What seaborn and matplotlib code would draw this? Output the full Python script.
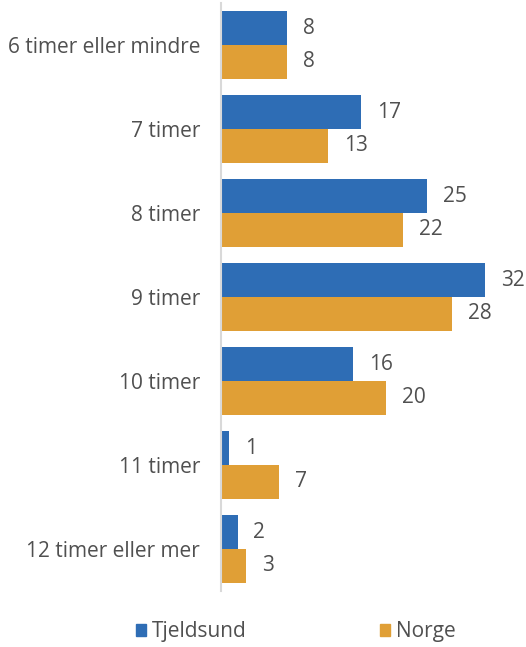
import matplotlib
matplotlib.use("Agg")
import matplotlib.pyplot as plt
import seaborn as sns
import pandas as pd
from matplotlib.patches import Patch

categories = ["6 timer eller mindre", "7 timer", "8 timer", "9 timer", "10 timer", "11 timer", "12 timer eller mer"]
tjeldsund = [8, 17, 25, 32, 16, 1, 2]
norge = [8, 13, 22, 28, 20, 7, 3]
series = ["Tjeldsund", "Norge"]
colors = ["#2E6DB5", "#E09F36"]

df = pd.DataFrame({
    "kategori": categories * 2,
    "verdi": tjeldsund + norge,
    "serie": [series[0]] * len(categories) + [series[1]] * len(categories),
})

sns.set_theme(style="white")
plt.rcParams["font.family"] = ["Open Sans", "DejaVu Sans"]
text_color = "#505050"
fs = 15

fig = plt.figure(figsize=(5.26, 6.47), dpi=100)
ax = fig.add_axes([221 / 526, 1 - 591 / 647, (510 - 221) / 526, 588 / 647])

sns.barplot(data=df, y="kategori", x="verdi", hue="serie", order=categories,
            hue_order=series, palette=colors, orient="h", width=0.8,
            ax=ax, legend=False, saturation=1, linewidth=0)

for cont in ax.containers:
    ax.bar_label(cont, labels=[f"{int(v.get_width())}" for v in cont],
                 padding=11.5, fontsize=fs, color=text_color)

ax.set_xlim(0, 35)
ax.set_ylim(len(categories) - 0.5, -0.5)
ax.set_xlabel("")
ax.set_ylabel("")
ax.set_xticks([])
ax.tick_params(axis="y", length=0, pad=15, labelsize=fs, labelcolor=text_color)
for s in ["top", "right", "bottom"]:
    ax.spines[s].set_visible(False)
ax.spines["left"].set_color("#d9d9d9")
ax.spines["left"].set_linewidth(1.5)

handles = [Patch(facecolor=c, edgecolor=c, label=s) for c, s in zip(colors, series)]
fig.legend(handles=handles, loc="center", bbox_to_anchor=(296 / 526, 1 - 632 / 647),
           ncol=2, frameon=False, fontsize=fs, handlelength=0.48, handleheight=0.48,
           handletextpad=0.29, columnspacing=6.4, labelcolor=text_color)

fig.savefig("out.png", dpi=100)
